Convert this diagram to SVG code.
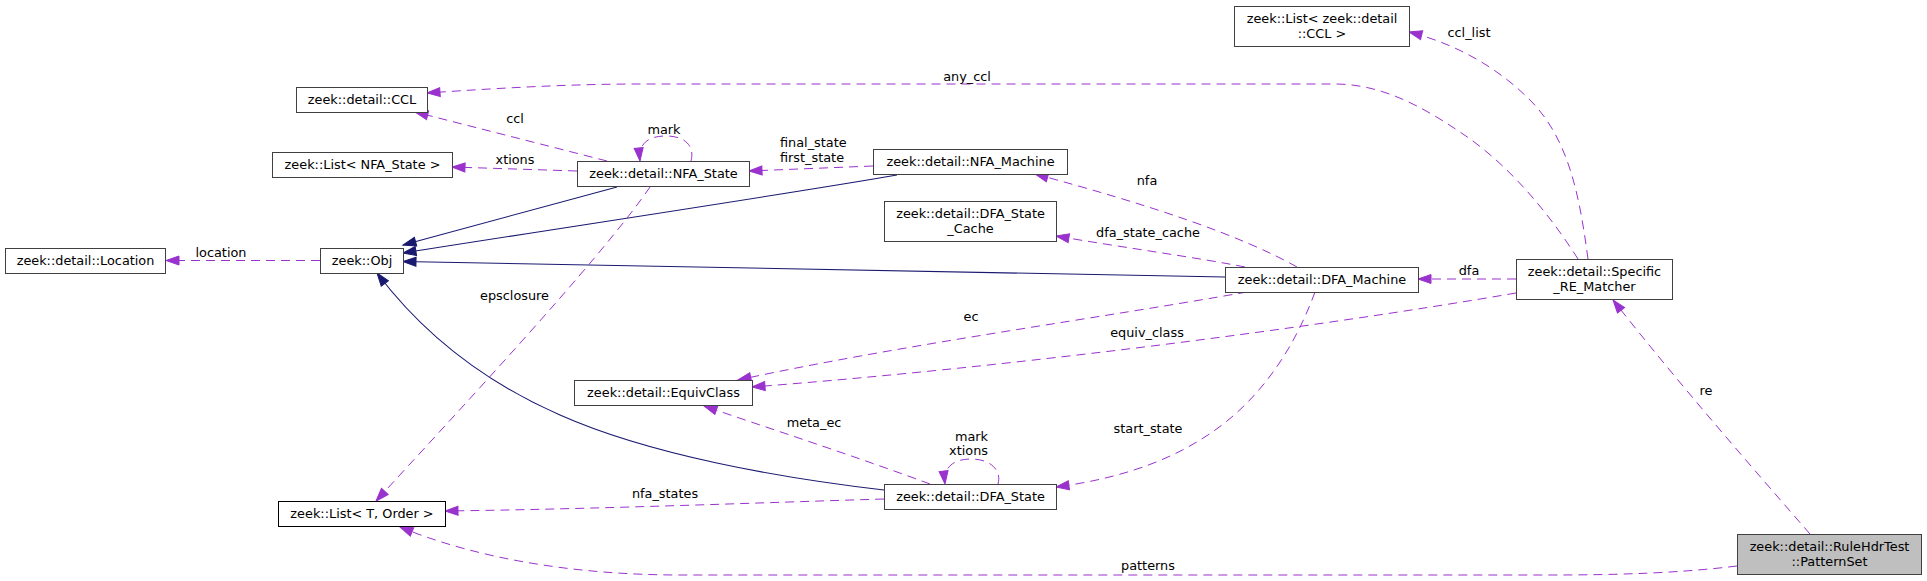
<svg xmlns="http://www.w3.org/2000/svg" width="1927" height="581" viewBox="0 0 1927 581">
<style>
text { font-family: "DejaVu Sans", "Liberation Sans", sans-serif; font-size: 12.85px; fill: #000; }
.node rect { fill: #fff; stroke: #404040; stroke-width: 1; }
.node rect.black { stroke: #000; }
.node rect.cur { fill: #bfbfbf; }
.node text { text-anchor: middle; }
.e { fill: none; stroke: #9a32cd; stroke-width: 1; stroke-dasharray: 9,6; marker-end: url(#ap); }
.i { fill: none; stroke: #191970; stroke-width: 1.1; marker-end: url(#an); }
.lbl { text-anchor: middle; }
</style>
<defs>
<marker id="ap" markerWidth="13" markerHeight="9" refX="13" refY="4.5" orient="auto" markerUnits="userSpaceOnUse" overflow="visible">
<path d="M0,0 L13,4.5 L0,9 z" fill="#9a32cd" stroke="#9a32cd" stroke-width="1"/>
</marker>
<marker id="an" markerWidth="13" markerHeight="9" refX="13" refY="4.5" orient="auto" markerUnits="userSpaceOnUse" overflow="visible">
<path d="M0,0 L13,4.5 L0,9 z" fill="#191970" stroke="#191970" stroke-width="1"/>
</marker>
</defs>
<rect x="0" y="0" width="1927" height="581" fill="#fff"/>

<g id="connectors">
<path class="i" d="M617,187 L403,245"/>
<path class="i" d="M897,175 C800,192 600,222 403,253"/>
<path class="i" d="M1225,277 L403,261.5"/>
<path class="i" d="M884,490 C780,478 650,455 560,415 C480,380 420,330 377,273"/>

<path class="e" d="M320,260.5 L166,260.5"/>
<path class="e" d="M607,161 L415,112"/>
<path class="e" d="M577,171 L452,167"/>
<path class="e" d="M691,161 C695,146 685,136 666,136 C650,136 638,142 640,161"/>
<path class="e" d="M650,187 C600,260 450,420 376,501"/>
<path class="e" d="M873,166 L749,171"/>
<path class="e" d="M1297,267 C1240,235 1150,205 1035,174"/>
<path class="e" d="M1245,267 C1200,258 1120,247 1056,236"/>
<path class="e" d="M1247,292 C1100,318 900,345 738,380"/>
<path class="e" d="M1315,292 C1290,360 1250,410 1200,440 C1160,465 1110,480 1056,487"/>
<path class="e" d="M930,484 C860,458 780,432 704,406"/>
<path class="e" d="M998,484 C1002,470 990,459 971,459 C955,459 943,466 945,484"/>
<path class="e" d="M884,499 C750,503 600,509 445,511"/>
<path class="e" d="M1516,279 L1418,279"/>
<path class="e" d="M1578,259 C1550,215 1510,165 1460,132 C1420,105 1380,84 1335,84 L640,84 C570,84 500,88 427,93"/>
<path class="e" d="M1588,259 C1580,200 1570,140 1530,100 C1500,70 1460,45 1409,32"/>
<path class="e" d="M1516,293 C1300,330 1000,368 752,387"/>
<path class="e" d="M1810,534 C1750,465 1680,385 1613,300"/>
<path class="e" d="M1737,566 C1680,573 1620,575 1550,575 L680,575 C580,575 480,560 400,527"/>

<text class="lbl" x="221" y="257">location</text>
<text class="lbl" x="515" y="122.5">ccl</text>
<text class="lbl" x="515" y="163.5">xtions</text>
<text class="lbl" x="664" y="133.5">mark</text>
<text x="780" y="147">final_state</text>
<text x="780" y="162">first_state</text>
<text class="lbl" x="514.5" y="299.5">epsclosure</text>
<text class="lbl" x="1147" y="184.5">nfa</text>
<text class="lbl" x="1148" y="236.5">dfa_state_cache</text>
<text class="lbl" x="971" y="321">ec</text>
<text class="lbl" x="1147" y="337">equiv_class</text>
<text class="lbl" x="814" y="427">meta_ec</text>
<text x="988" y="441" text-anchor="end">mark</text>
<text x="988" y="455" text-anchor="end">xtions</text>
<text class="lbl" x="1148" y="432.5">start_state</text>
<text class="lbl" x="665" y="497.5">nfa_states</text>
<text class="lbl" x="1148" y="569.5">patterns</text>
<text class="lbl" x="1469" y="274.5">dfa</text>
<text class="lbl" x="1469" y="36.5">ccl_list</text>
<text class="lbl" x="967" y="80.5">any_ccl</text>
<text class="lbl" x="1706" y="395">re</text>
</g>

<g id="node-location" class="node">
<rect x="5.5" y="248.5" width="160" height="25"/>
<text x="85.5" y="265">zeek::detail::Location</text>
</g>
<g id="node-obj" class="node">
<rect x="320.5" y="248.5" width="83" height="25"/>
<text x="362" y="265">zeek::Obj</text>
</g>
<g id="node-ccl" class="node">
<rect x="296.5" y="87.5" width="131" height="25"/>
<text x="362" y="104">zeek::detail::CCL</text>
</g>
<g id="node-list-nfa-state" class="node">
<rect x="272.5" y="152.5" width="180" height="25"/>
<text x="362.5" y="169">zeek::List&lt; NFA_State &gt;</text>
</g>
<g id="node-list-t-order" class="node">
<rect class="black" x="278.5" y="501.5" width="167" height="25"/>
<text x="362" y="518">zeek::List&lt; T, Order &gt;</text>
</g>
<g id="node-nfa-state" class="node">
<rect x="577.5" y="161.5" width="172" height="25"/>
<text x="663.5" y="178">zeek::detail::NFA_State</text>
</g>
<g id="node-nfa-machine" class="node">
<rect x="873.5" y="149.5" width="194" height="25"/>
<text x="970.5" y="166">zeek::detail::NFA_Machine</text>
</g>
<g id="node-dfa-state-cache" class="node">
<rect x="884.5" y="201.5" width="172" height="40"/>
<text x="970.5" y="218">zeek::detail::DFA_State</text>
<text x="970.5" y="233">_Cache</text>
</g>
<g id="node-equivclass" class="node">
<rect x="574.5" y="380.5" width="178" height="25"/>
<text x="663.5" y="397">zeek::detail::EquivClass</text>
</g>
<g id="node-dfa-state" class="node">
<rect x="884.5" y="484.5" width="172" height="25"/>
<text x="970.5" y="501">zeek::detail::DFA_State</text>
</g>
<g id="node-dfa-machine" class="node">
<rect x="1225.5" y="267.5" width="193" height="25"/>
<text x="1322" y="284">zeek::detail::DFA_Machine</text>
</g>
<g id="node-list-ccl" class="node">
<rect x="1234.5" y="6.5" width="175" height="40"/>
<text x="1322" y="23">zeek::List&lt; zeek::detail</text>
<text x="1322" y="38">::CCL &gt;</text>
</g>
<g id="node-specific-re-matcher" class="node">
<rect x="1516.5" y="259.5" width="156" height="40"/>
<text x="1594.5" y="276">zeek::detail::Specific</text>
<text x="1594.5" y="291">_RE_Matcher</text>
</g>
<g id="node-patternset" class="node">
<rect class="cur" x="1737.5" y="534.5" width="184" height="40"/>
<text x="1829.5" y="551">zeek::detail::RuleHdrTest</text>
<text x="1829.5" y="566">::PatternSet</text>
</g>
</svg>
